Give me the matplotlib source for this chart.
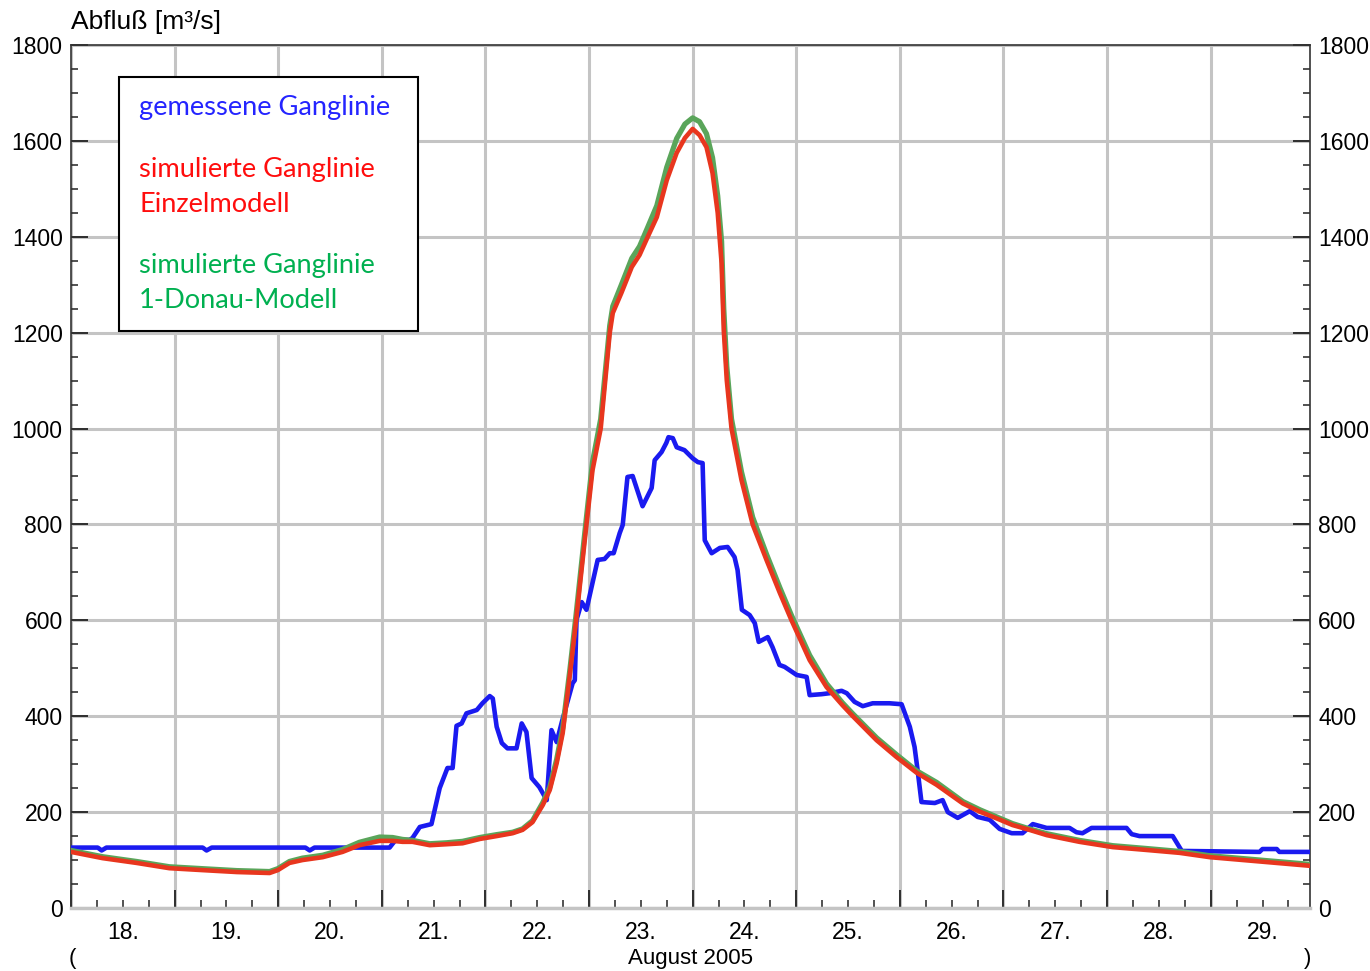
import matplotlib
matplotlib.use("Agg")
import matplotlib.pyplot as plt
from matplotlib.patches import Rectangle
from matplotlib.ticker import MultipleLocator

# Zeit in Stunden ab 18.08.2005 00:00
# gemessene Ganglinie
mess_h = [0, 6.2, 7.1, 8.2, 30.5, 31.4, 32.6, 54.3, 55.3, 56.4,
          73.8, 75.2, 78.4, 79.1, 80.8, 83.5, 85.4, 87.2, 88.4, 89.3,
          90.5, 91.6, 94.0, 95.3, 97.0, 97.7, 98.6, 99.8, 101.1, 103.2,
          104.4, 105.5, 106.7, 108.5, 110.2, 111.3, 112.5, 113.7, 116.2, 116.7,
          117.1, 118.3, 119.4, 120.8, 122.0, 123.6, 124.8, 125.7, 127.1, 127.8,
          128.9, 130.1, 132.4, 134.5, 135.2, 136.8, 137.9, 138.4, 139.4, 140.3,
          142.1, 144.0, 145.2, 146.3, 146.8, 148.4, 150.3, 152.1, 153.7, 154.4,
          155.4, 157.2, 158.4, 159.3, 161.4, 162.5, 164.1, 165.3, 168.1, 170.4,
          171.1, 173.9, 175.7, 178.5, 179.7, 181.5, 183.4, 185.7, 189.6, 192.4,
          194.3, 195.4, 196.1, 197.0, 200.1, 201.9, 203.1, 205.4, 208.2, 210.0,
          212.8, 215.1, 217.9, 220.4, 222.8, 226.0, 231.3, 232.9, 234.3, 236.4,
          244.5, 245.7, 247.5, 255.2, 257.3, 275.3, 276.0, 279.3, 279.9, 287.0]
mess_q = [126, 126, 120, 126, 126, 120, 126, 126, 120, 126,
          126, 142, 142, 146, 169, 175, 250, 292, 292, 380,
          385, 406, 413, 427, 442, 437, 378, 344, 333, 333,
          385, 367, 271, 252, 225, 371, 346, 388, 469, 475,
          601, 638, 622, 678, 726, 728, 740, 740, 782, 799,
          899, 901, 838, 876, 934, 951, 970, 982, 980, 961,
          955, 938, 930, 928, 767, 740, 751, 753, 732, 705,
          622, 611, 594, 555, 565, 544, 507, 503, 486, 482,
          444, 446, 448, 453, 448, 430, 421, 427, 427, 425,
          378, 336, 288, 221, 219, 225, 200, 188, 202, 190,
          184, 165, 156, 156, 175, 167, 167, 158, 156, 167,
          167, 154, 150, 150, 119, 117, 123, 123, 117, 117]

# simulierte Ganglinien
sim_h = [0, 7.3, 15.2, 22.8, 30.5, 38.4, 46.0, 47.9, 50.6, 53.6,
         58.3, 62.9, 66.8, 71.5, 74.5, 76.8, 79.1, 83.1, 87.0, 90.7,
         94.7, 98.6, 102.3, 104.6, 106.9, 109.3, 110.9, 112.5, 113.9, 115.6,
         117.0, 119.4, 120.8, 122.7, 124.8, 125.5, 127.5, 129.9, 131.7, 133.6,
         135.7, 138.0, 140.3, 142.2, 144.0, 145.6, 147.2, 148.6, 149.8, 150.7,
         151.2, 151.9, 153.0, 155.3, 157.9, 161.1, 164.2, 166.9, 171.1, 175.0,
         178.7, 181.1, 186.6, 191.2, 195.9, 200.5, 206.6, 210.5, 214.4, 218.1,
         222.0, 226.0, 233.6, 241.3, 249.2, 256.8, 263.8, 287.0]
einzel_q = [117, 104, 94, 83, 79, 75, 73, 79, 94, 100,
            106, 117, 131, 140, 140, 138, 138, 131, 133, 135,
            144, 150, 156, 163, 179, 215, 246, 302, 365, 490,
            600, 800, 913, 1000, 1200, 1241, 1283, 1337, 1362, 1400,
            1441, 1518, 1575, 1606, 1625, 1612, 1587, 1533, 1450, 1345,
            1206, 1101, 1000, 893, 800, 726, 657, 600, 517, 461,
            423, 400, 350, 315, 282, 257, 218, 201, 187, 173,
            163, 152, 138, 127, 121, 115, 106, 88]
donau_q = [120, 107, 97, 86, 82, 78, 76, 82, 97, 104,
           110, 122, 137, 148, 147, 143, 141, 134, 136, 139,
           147, 153, 158, 165, 182, 220, 252, 310, 375, 500,
           612, 815, 930, 1020, 1215, 1255, 1300, 1355, 1380, 1420,
           1465, 1545, 1605, 1635, 1648, 1640, 1615, 1565, 1485, 1390,
           1250, 1130, 1020, 910, 815, 738, 668, 610, 527, 468,
           428, 405, 355, 320, 286, 262, 222, 205, 190, 176,
           165, 155, 141, 130, 124, 118, 109, 91]

day_labels = ["18.", "19.", "20.", "21.", "22.", "23.", "24.", "25.", "26.", "27.", "28.", "29."]
legend_lines = ["gemessene Ganglinie",
                "simulierte Ganglinie", "Einzelmodell",
                "simulierte Ganglinie", "1-Donau-Modell"]
legend_colors = ["#2424ff", "#ff0d0d", "#ff0d0d", "#00b050", "#00b050"]

plt.rcParams["font.family"] = ["Liberation Sans", "DejaVu Sans"]
W, H = 1370, 971
fig = plt.figure(figsize=(W / 100, H / 100), dpi=100)
ax = fig.add_axes([71 / W, 1 - 908 / H, (1310 - 71) / W, (908 - 45) / H])

ax.plot(mess_h, mess_q, color="#1a1af0", lw=3.3, zorder=3)
ax.plot(sim_h, donau_q, color="#5aa55a", lw=3.8, zorder=4)
ax.plot(sim_h, einzel_q, color="#e8361e", lw=3.3, zorder=5)

ax.set_xlim(0, 287)
ax.set_ylim(0, 1800)
ax.xaxis.set_major_locator(MultipleLocator(24))
ax.xaxis.set_minor_locator(MultipleLocator(6))
ax.yaxis.set_major_locator(MultipleLocator(200))
ax.yaxis.set_minor_locator(MultipleLocator(50))
ax.grid(True, which="major", color="#c4c4c4", lw=2.2, zorder=1)
ax.set_axisbelow(True)

ax.tick_params(axis="y", which="both", direction="in", left=True, right=True,
               labelleft=True, labelright=True, labelsize=16.5, pad=6, color="#222222")
ax.tick_params(axis="y", which="major", length=12, width=1.3)
ax.tick_params(axis="y", which="minor", length=5, width=1.1)
ax.tick_params(axis="x", which="both", direction="in", top=False, labelbottom=False, color="#222222")
ax.tick_params(axis="x", which="major", length=13, width=1.3)
ax.tick_params(axis="x", which="minor", length=6, width=1.1)

for s in ["left", "right", "top"]:
    ax.spines[s].set_linewidth(1.2)
    ax.spines[s].set_color("#333333")
ax.spines["bottom"].set_color("#c4c4c4")
ax.spines["bottom"].set_linewidth(2.5)

for i, lab in enumerate(day_labels):
    ax.text(24 * i + 12, -0.015, lab, transform=ax.get_xaxis_transform(),
            ha="center", va="top", fontsize=16.5)

fig.text(71 / W, 1 - 22 / H, "Abfluß [m³/s]", ha="left", va="center", fontsize=19)
fig.text(690 / W, 1 - 958 / H, "August 2005", ha="center", va="center", fontsize=16)
fig.text(72 / W, 1 - 958 / H, "(", ha="center", va="center", fontsize=16)
fig.text(1308 / W, 1 - 958 / H, ")", ha="center", va="center", fontsize=16)

# Legendenkasten
box = Rectangle((119 / W, 1 - 331 / H), (418 - 119) / W, (331 - 77) / H,
                transform=fig.transFigure, facecolor="white", edgecolor="black", lw=1.5, zorder=10)
fig.patches.append(box)
ys = [107, 169, 204, 266, 301]
for txt, col, y in zip(legend_lines, legend_colors, ys):
    fig.text(139 / W, 1 - y / H, txt, ha="left", va="center", fontsize=19.6,
             family=["Lato", "DejaVu Sans"], color=col, zorder=11)

fig.savefig("out.png", dpi=100)
